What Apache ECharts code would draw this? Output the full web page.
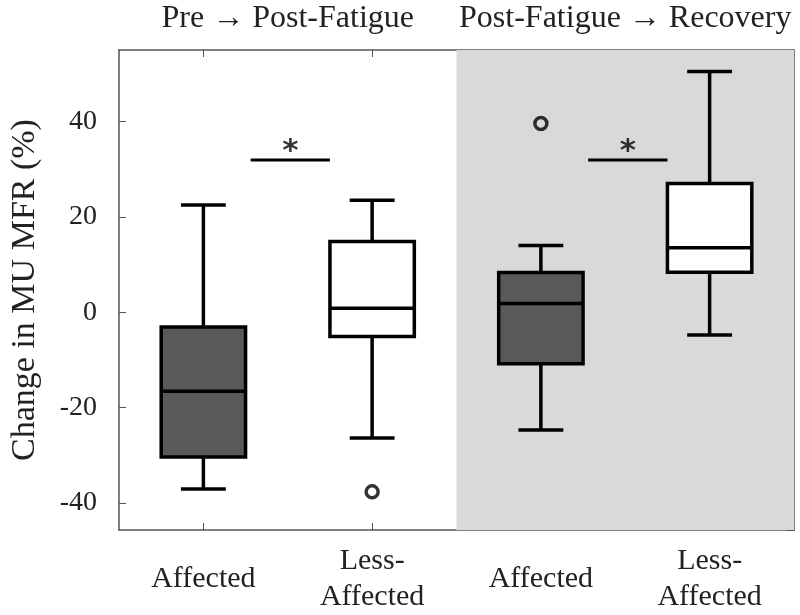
<!DOCTYPE html>
<html>
<head>
<meta charset="utf-8">
<script src="https://cdn.jsdelivr.net/npm/echarts@6/dist/echarts.min.js"></script>
<style>html,body{margin:0;padding:0;background:#fff}#chart{width:800px;height:615px}</style>
</head>
<body>
<div id="chart"></div>
<script>
// ---- data ----
const categories = ['Affected', 'Less-\nAffected', 'Affected', 'Less-\nAffected'];
const phaseLabels = ['Pre \u2192 Post-Fatigue', 'Post-Fatigue \u2192 Recovery'];
const whiskerLow  = [-37.1, -26.4, -24.7, -4.8];
const q1          = [-30.4,  -5.1, -10.8,  8.4];
const median      = [-16.6,   0.8,   1.8, 13.5];
const q3          = [ -3.1,  14.8,   8.3, 27.0];
const whiskerHigh = [ 22.5,  23.5,  14.0, 50.5];
const outliers    = [[1, -37.7], [2, 39.6]];
// significance bars: [startX, endX, y] in category units
const sigBars     = [[0.28, 0.75, 31.9], [2.28, 2.75, 31.9]];
const yLabel = 'Change in MU MFR (%)';

// ---- styling ----
const boxFills = ['#595959', '#ffffff', '#595959', '#ffffff'];
const FONT = '"Liberation Serif", "DejaVu Serif", serif';
const AX = '#555';

const boxData = categories.map((c, i) => [i, whiskerLow[i], q1[i], median[i], q3[i], whiskerHigh[i]]);

const chart = echarts.init(document.getElementById('chart'));

const series = [
  {
    type: 'line', xAxisIndex: 1, yAxisIndex: 0, z: 0, silent: true,
    data: [[1.5, 0]], symbol: 'none', lineStyle: { opacity: 0 },
    markArea: { silent: true, itemStyle: { color: '#d9d9d9' }, data: [[{ xAxis: 1.5 }, { xAxis: 3.5 }]] }
  },
  {
    type: 'custom', xAxisIndex: 0, yAxisIndex: 0, z: 5,
    data: boxData,
    encode: { x: 0, y: [1, 2, 3, 4, 5] },
    renderItem: function (params, api) {
      const x = api.value(0);
      const pMin = api.coord([x, api.value(1)]);
      const pQ1 = api.coord([x, api.value(2)]);
      const pMed = api.coord([x, api.value(3)]);
      const pQ3 = api.coord([x, api.value(4)]);
      const pMax = api.coord([x, api.value(5)]);
      const band = api.size([1, 0])[0];
      const hw = band * 0.25, cw = band * 0.133;
      const cx = pMed[0];
      const ls = { stroke: '#000', lineWidth: 3.5, fill: null };
      return {
        type: 'group', children: [
          { type: 'line', shape: { x1: cx, y1: pMax[1], x2: cx, y2: pQ3[1] }, style: ls },
          { type: 'line', shape: { x1: cx, y1: pQ1[1], x2: cx, y2: pMin[1] }, style: ls },
          { type: 'line', shape: { x1: cx - cw, y1: pMax[1], x2: cx + cw, y2: pMax[1] }, style: ls },
          { type: 'line', shape: { x1: cx - cw, y1: pMin[1], x2: cx + cw, y2: pMin[1] }, style: ls },
          { type: 'rect', shape: { x: cx - hw, y: pQ3[1], width: 2 * hw, height: pQ1[1] - pQ3[1] },
            style: { fill: boxFills[params.dataIndex], stroke: '#000', lineWidth: 3.5 } },
          { type: 'line', shape: { x1: cx - hw, y1: pMed[1], x2: cx + hw, y2: pMed[1] }, style: ls }
        ]
      };
    }
  },
  {
    type: 'scatter', xAxisIndex: 0, yAxisIndex: 0, z: 6,
    data: outliers, symbol: 'circle', symbolSize: 12,
    itemStyle: { color: 'transparent', borderColor: '#000', borderWidth: 3.5 }
  }
];

sigBars.forEach(b => {
  series.push({
    type: 'line', xAxisIndex: 1, yAxisIndex: 0, z: 6, silent: true,
    data: [[b[0], b[2]], [b[1], b[2]]], symbol: 'none',
    lineStyle: { color: '#000', width: 3 }
  });
});
series.push({
  type: 'scatter', xAxisIndex: 1, yAxisIndex: 0, z: 6, silent: true,
  data: sigBars.map(b => [(b[0] + b[1]) / 2, b[2]]),
  symbolSize: 1, itemStyle: { color: 'transparent' },
  label: { show: true, formatter: '*', position: 'top', distance: -8,
    fontSize: 31, fontWeight: 'bold', color: '#000', fontFamily: '"DejaVu Sans", sans-serif' }
});

chart.setOption({
  animation: false,
  backgroundColor: '#fff',
  grid: { left: 115, right: 6, top: 50, bottom: 78, containLabel: false },
  xAxis: [
    {
      type: 'category', position: 'bottom', data: categories,
      axisLine: { show: true, onZero: false, lineStyle: { color: AX, width: 1.5 } },
      axisTick: { show: true, inside: true, alignWithLabel: true, length: 7, lineStyle: { color: AX, width: 1 } },
      axisLabel: { interval: 0, fontSize: 30, fontFamily: FONT, color: '#222', margin: 49, verticalAlign: 'middle', lineHeight: 36, align: 'center' },
      splitLine: { show: false }
    },
    { type: 'value', min: -0.5, max: 3.5, show: false, axisLine: { show: false, onZero: false } },
    {
      type: 'category', position: 'top', data: categories,
      axisLine: { show: true, onZero: false, lineStyle: { color: AX, width: 1.5 } },
      axisTick: { show: true, inside: true, alignWithLabel: true, length: 7, lineStyle: { color: AX, width: 1 } },
      axisLabel: { show: false }, splitLine: { show: false }
    },
    {
      type: 'category', position: 'top', data: phaseLabels,
      axisLine: { show: false, onZero: false }, axisTick: { show: false },
      axisLabel: { interval: 0, fontSize: 32, fontFamily: FONT, color: '#222', margin: 31, verticalAlign: 'middle' },
      splitLine: { show: false }
    }
  ],
  yAxis: [
    {
      type: 'value', position: 'left', min: -45.7, max: 55, splitNumber: 5,
      name: yLabel, nameLocation: 'middle', nameRotate: 90, nameGap: 77,
      nameTextStyle: { fontSize: 34, fontFamily: FONT, color: '#222' },
      axisLine: { show: true, onZero: false, lineStyle: { color: AX, width: 1.5 } },
      axisTick: { show: true, inside: true, length: 7, lineStyle: { color: AX, width: 1 } },
      axisLabel: { fontSize: 28, fontFamily: FONT, color: '#222', margin: 22, showMinLabel: false, showMaxLabel: false },
      splitLine: { show: false }
    },
    {
      type: 'value', position: 'right', min: -45.7, max: 55, splitNumber: 5,
      axisLine: { show: true, onZero: false, lineStyle: { color: AX, width: 1.5 } },
      axisTick: { show: true, inside: true, length: 7, lineStyle: { color: AX, width: 1 } },
      axisLabel: { show: false }, splitLine: { show: false }
    }
  ],
  series: series
});
</script>
</body>
</html>
